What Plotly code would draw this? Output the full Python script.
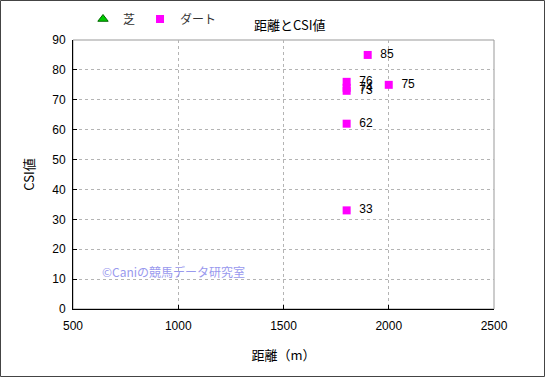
import plotly.graph_objects as go

dirt_dist = [1900, 1800, 1800, 1800, 2000, 1800, 1800]
dirt_csi = [85, 76, 74, 73, 75, 62, 33]
turf_dist = [None]
turf_csi = [None]

W, H = 545, 377
L, R, T, B = 73, 51, 40, 68
pw, ph = W - L - R, H - T - B

font = "Liberation Sans, Arial, Noto Sans CJK JP, sans-serif"

fig = go.Figure()
fig.add_trace(go.Scatter(x=turf_dist, y=turf_csi, mode="markers", name="芝",
                         marker=dict(symbol="triangle-up", size=9, color="#00cc00",
                                     line=dict(color="#006600", width=1))))
fig.add_trace(go.Scatter(x=dirt_dist, y=dirt_csi, mode="markers+text", name="ダート",
                         marker=dict(symbol="square", size=8, color="#ff00ff"),
                         text=[f"  {v}" for v in dirt_csi], textposition="middle right",
                         textfont=dict(size=12, color="#000000", family=font)))

fig.update_layout(
    width=W, height=H,
    margin=dict(l=L, r=R, t=T, b=B, autoexpand=False),
    paper_bgcolor="white", plot_bgcolor="white",
    font=dict(family=font, size=12, color="#000000"),
    showlegend=True,
    legend=dict(orientation="h", x=(83 - L) / pw, y=1 + (T - 19) / ph, xanchor="left", yanchor="middle",
                font=dict(size=12, color="#333333", family="Noto Sans CJK JP"), itemwidth=30,
                bgcolor="rgba(0,0,0,0)", tracegroupgap=0),
    annotations=[
        dict(text="距離とCSI値", x=(290 - L) / pw, y=1 + (T - 24) / ph, xref="paper", yref="paper",
             xanchor="center", yanchor="middle",
             showarrow=False, font=dict(size=13, family="Noto Sans CJK JP")),
        dict(text="©Caniの競馬データ研究室", x=(100 - L) / pw, y=(309 - 271) / ph, xref="paper", yref="paper",
             xanchor="left", yanchor="middle", showarrow=False,
             font=dict(size=12, color="#9999ee", family="Noto Sans CJK JP")),
    ],
    shapes=[
        dict(type="rect", xref="paper", yref="paper", x0=0, x1=1, y0=0, y1=1,
             line=dict(color="#999999", width=1), layer="below"),
        dict(type="rect", xref="paper", yref="paper",
             x0=(0.5 - L) / pw, x1=(W - 0.5 - L) / pw, y0=(309 - (H - 0.5)) / ph, y1=(309 - 0.5) / ph,
             line=dict(color="#444444", width=1), layer="above"),
    ],
)
fig.update_xaxes(range=[500, 2500], dtick=500, showgrid=True, gridcolor="#b4b4b4", griddash="dot",
                 showline=True, linecolor="#000000", linewidth=1, ticks="inside", ticklen=4,
                 tickcolor="#000000", zeroline=False, ticklabelstandoff=6,
                 title=dict(text="距離（m）", font=dict(size=13, family="Noto Sans CJK JP"), standoff=18))
fig.update_yaxes(range=[0, 90], dtick=10, showgrid=True, gridcolor="#b4b4b4", griddash="dot",
                 showline=True, linecolor="#000000", linewidth=1, ticks="inside", ticklen=4,
                 tickcolor="#000000", zeroline=False, ticklabelstandoff=4,
                 title=dict(text="CSI値", font=dict(size=13, family="Noto Sans CJK JP"), standoff=14))

fig.write_html("out.html", config={"displayModeBar": False},
               post_script="document.body.style.margin='0';document.body.style.padding='0';")
